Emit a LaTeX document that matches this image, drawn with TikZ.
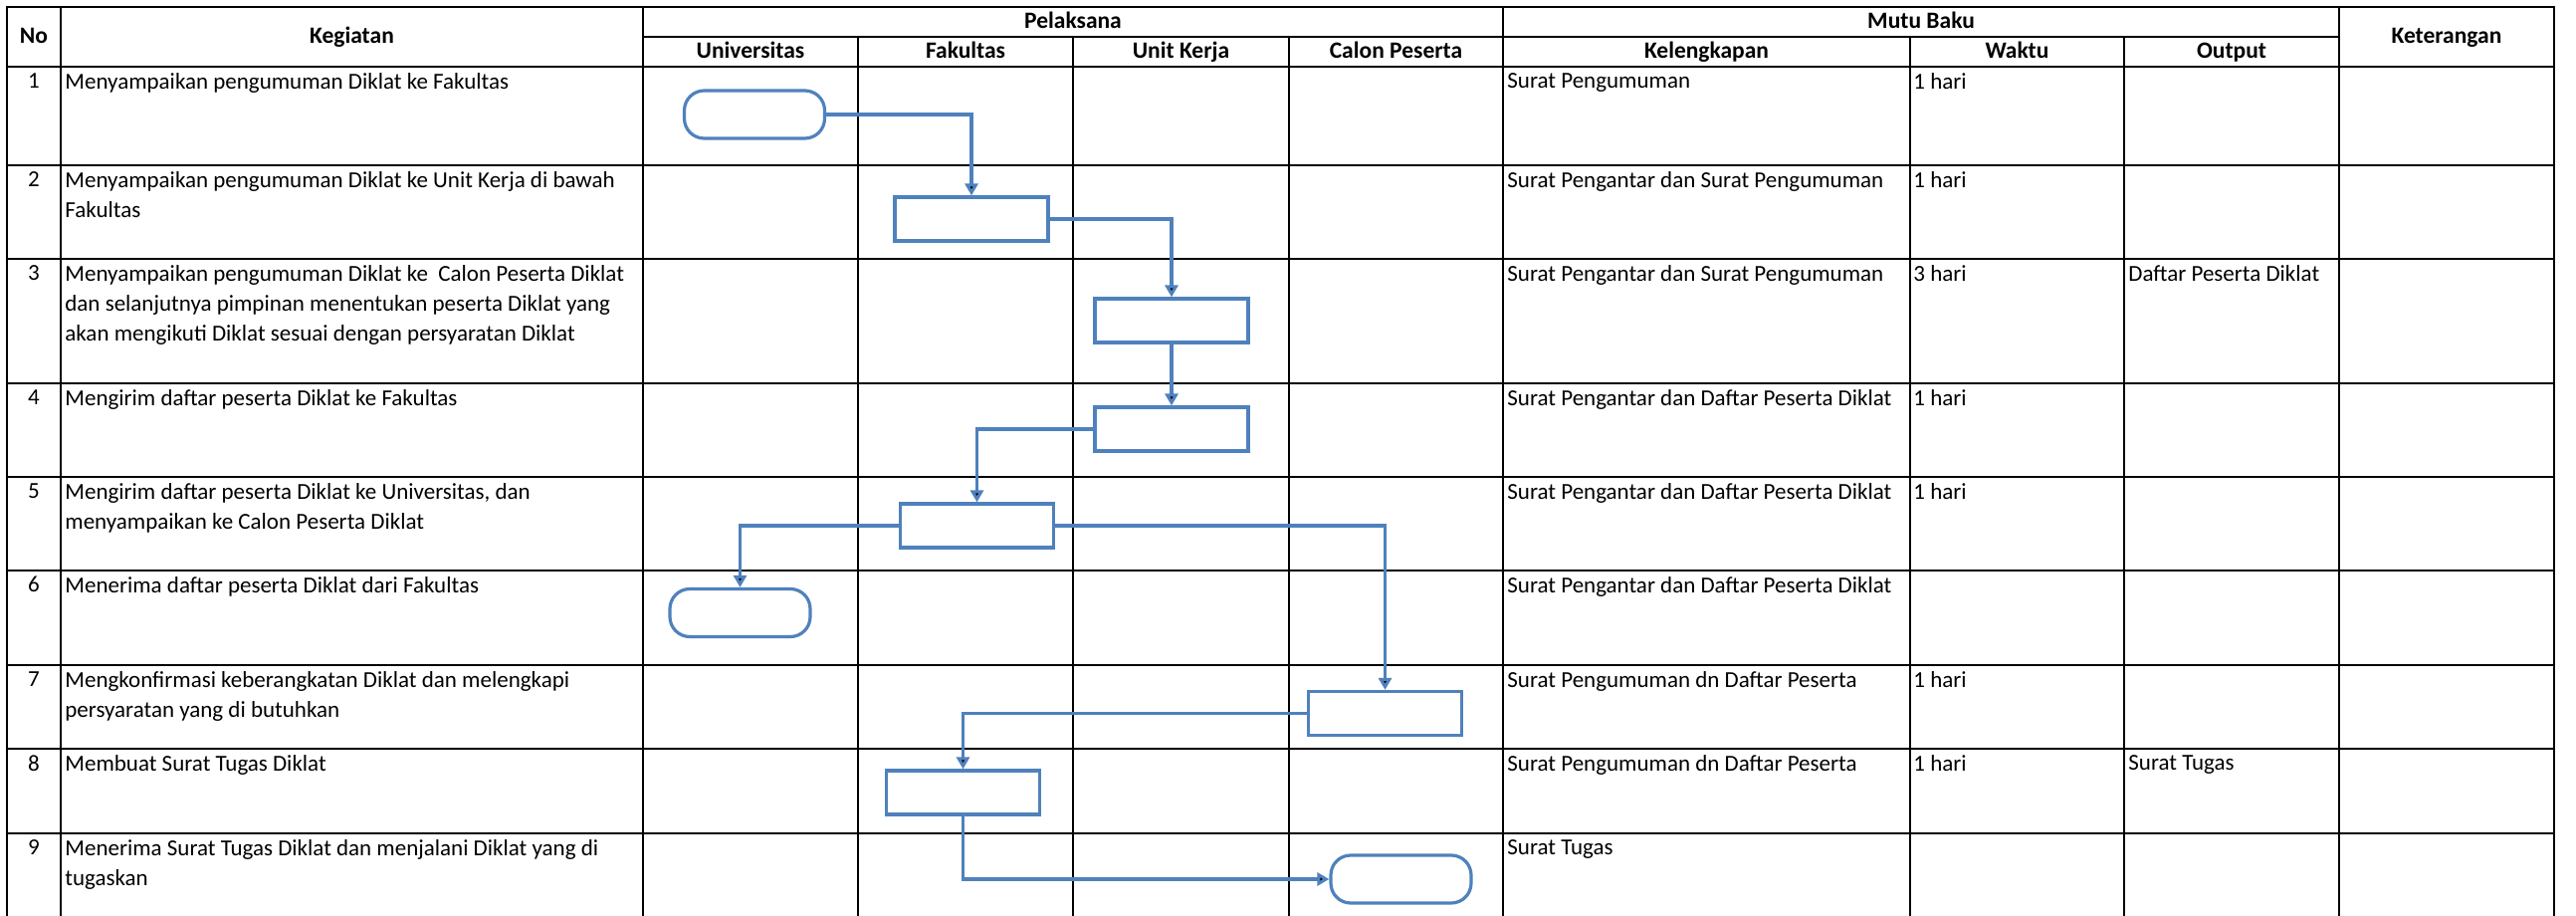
\documentclass[tikz,border=0pt]{standalone}
\usepackage{fontspec}
\setmainfont{Carlito}
\usepackage{tikz}
\usetikzlibrary{arrows.meta, positioning}
\definecolor{flowblue}{RGB}{79,129,189}

\begin{document}
\begin{tikzpicture}[x=0.5pt, y=-0.5pt,
    font=\fontsize{11.5pt}{15pt}\selectfont,
    tline/.style={line width=1.35pt, black},
    hd/.style={font=\fontsize{11.75pt}{15pt}\selectfont\bfseries, anchor=base, inner sep=0pt},
    txt/.style={anchor=north west, align=left, inner sep=0pt},
    num/.style={anchor=north, inner sep=0pt},
    proc/.style={draw=flowblue, line width=1.6pt, minimum width=77pt, minimum height=22pt, inner sep=0pt},
    term/.style={proc, minimum width=70.5pt, minimum height=24pt, rounded corners=10pt},
    flowline/.style={draw=flowblue, line width=1.6pt},
    hv/.style={to path={-| (\tikztotarget)}},
    vh/.style={to path={|- (\tikztotarget)}},
    >={Triangle[length=6pt, width=6.5pt]}]
    \useasboundingbox (0,0) rectangle (2588,920);
    \draw[tline] (7,920) -- (7,7) -- (2566,7) -- (2566,920);
    \draw[tline]
    (61,7) -- (61,920) (646,7) -- (646,920) (1510,7) -- (1510,920) (2350,7) -- (2350,920)
    (862,37) -- (862,920) (1078,37) -- (1078,920) (1295,37) -- (1295,920)
    (1919,37) -- (1919,920) (2134,37) -- (2134,920)
    (646,37) -- (2350,37)
    (7,67) -- (2566,67) (7,166) -- (2566,166) (7,260) -- (2566,260)
    (7,385) -- (2566,385) (7,479) -- (2566,479) (7,573) -- (2566,573)
    (7,668) -- (2566,668) (7,752) -- (2566,752) (7,837) -- (2566,837);

    \node[hd] (hno) at (34,44) {No};
    \node[hd] (hkeg) at (353.5,44) {Kegiatan};
    \node[hd] (hpel) at (1078,29) {Pelaksana};
    \node[hd] (huni) at (754,59) {Universitas};
    \node[hd] (hfak) at (970,59) {Fakultas};
    \node[hd] (hunit) at (1186.5,59) {Unit Kerja};
    \node[hd] (hcal) at (1402.5,59) {Calon Peserta};
    \node[hd] (hmutu) at (1930,29) {Mutu Baku};
    \node[hd] (hkel) at (1714.5,59) {Kelengkapan};
    \node[hd] (hwak) at (2026.5,59) {Waktu};
    \node[hd] (hout) at (2242,59) {Output};
    \node[hd] (hket) at (2458,44) {Keterangan};

    \node[num] (n1) at (34,73) {1};
    \node[num] (n2) at (34,172) {2};
    \node[num] (n3) at (34,266) {3};
    \node[num] (n4) at (34,391) {4};
    \node[num] (n5) at (34,485) {5};
    \node[num] (n6) at (34,579) {6};
    \node[num] (n7) at (34,674) {7};
    \node[num] (n8) at (34,758) {8};
    \node[num] (n9) at (34,843) {9};

    \node[txt] (k1) at (65,73) {Menyampaikan pengumuman Diklat ke Fakultas};
    \node[txt] (k2) at (65,172) {Menyampaikan pengumuman Diklat ke Unit Kerja di bawah\\Fakultas};
    \node[txt] (k3) at (65,266) {Menyampaikan pengumuman Diklat ke~ Calon Peserta Diklat\\dan selanjutnya pimpinan menentukan peserta Diklat yang\\akan mengikuti Diklat sesuai dengan persyaratan Diklat};
    \node[txt] (k4) at (65,391) {Mengirim daftar peserta Diklat ke Fakultas};
    \node[txt] (k5) at (65,485) {Mengirim daftar peserta Diklat ke Universitas, dan\\menyampaikan ke Calon Peserta Diklat};
    \node[txt] (k6) at (65,579) {Menerima daftar peserta Diklat dari Fakultas};
    \node[txt] (k7) at (65,674) {Mengkonfirmasi keberangkatan Diklat dan melengkapi\\persyaratan yang di butuhkan};
    \node[txt] (k8) at (65,758) {Membuat Surat Tugas Diklat};
    \node[txt] (k9) at (65,843) {Menerima Surat Tugas Diklat dan menjalani Diklat yang di\\tugaskan};

    \node[txt] (kl1) at (1514,73) {Surat Pengumuman};
    \node[txt] (kl2) at (1514,172) {Surat Pengantar dan Surat Pengumuman};
    \node[txt] (kl3) at (1514,266) {Surat Pengantar dan Surat Pengumuman};
    \node[txt] (kl4) at (1514,391) {Surat Pengantar dan Daftar Peserta Diklat};
    \node[txt] (kl5) at (1514,485) {Surat Pengantar dan Daftar Peserta Diklat};
    \node[txt] (kl6) at (1514,579) {Surat Pengantar dan Daftar Peserta Diklat};
    \node[txt] (kl7) at (1514,674) {Surat Pengumuman dn Daftar Peserta};
    \node[txt] (kl8) at (1514,758) {Surat Pengumuman dn Daftar Peserta};
    \node[txt] (kl9) at (1514,843) {Surat Tugas};

    \node[txt] (w1) at (1922,73) {1 hari};
    \node[txt] (w2) at (1922,172) {1 hari};
    \node[txt] (w3) at (1922,266) {3 hari};
    \node[txt] (w4) at (1922,391) {1 hari};
    \node[txt] (w5) at (1922,485) {1 hari};
    \node[txt] (w7) at (1922,674) {1 hari};
    \node[txt] (w8) at (1922,758) {1 hari};
    \node[txt] (o3) at (2138,266) {Daftar Peserta Diklat};
    \node[txt] (o8) at (2138,758) {Surat Tugas};

    \node[term] (t1) at (758,115) {};
    \node[proc] (p2) at (976,220) {};
    \node[proc] (p3) at (1177,322) {};
    \node[proc] (p4) at (1177,431) {};
    \node[proc] (p5) at (981.5,528) {};
    \node[term] (t6) at (743.5,615.5) {};
    \node[proc] (p7) at (1391.5,716.5) {};
    \node[proc] (p8) at (967.5,796) {};
    \node[term] (t9) at (1407.5,883) {};
    \draw[flowline]
    (t1) edge[->, hv] (p2)
    (p2) edge[->, hv] (p3)
    (p3) edge[->] (p4)
    (p4) edge[->, hv] (p5)
    (p5) edge[->, hv] (t6)
    (p5) edge[->, hv] (p7)
    (p7) edge[->, hv] (p8)
    (p8) edge[->, vh] (t9);
\end{tikzpicture}
\end{document}
